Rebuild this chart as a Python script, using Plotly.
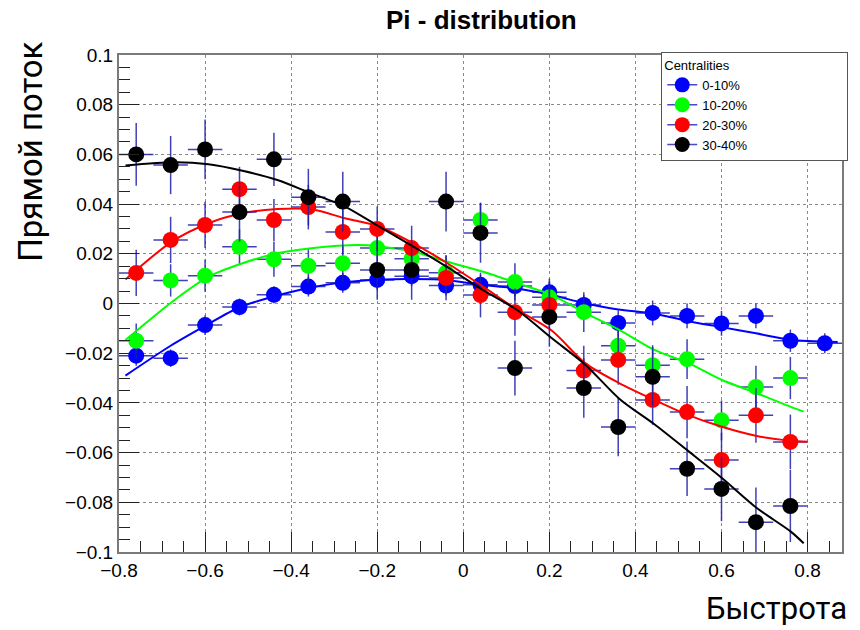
import plotly.graph_objects as go

# ---------------- data ----------------
x_bins = [-0.76, -0.68, -0.60, -0.52, -0.44, -0.36, -0.28, -0.20, -0.12, -0.04,
          0.04, 0.12, 0.20, 0.28, 0.36, 0.44, 0.52, 0.60, 0.68, 0.76, 0.84]
x_halfwidth = 0.04

labels = ["0-10%", "10-20%", "20-30%", "30-40%"]
colors = ["#0000ff", "#00ff00", "#ff0000", "#000000"]

v2_c0 = [-0.021, -0.022, -0.0087, -0.0014, 0.0035, 0.0068, 0.0083, 0.0095, 0.011, 0.0072,
         0.0075, 0.0070, 0.0045, -0.0006, -0.0078, -0.0038, -0.005, -0.008, -0.005, -0.015, -0.016]
v2_c1 = [-0.015, 0.0093, 0.0112, 0.0228, 0.0178, 0.0152, 0.0162, 0.0223, 0.018, 0.0124,
         0.0336, 0.0087, 0.0025, -0.0035, -0.017, -0.0248, -0.0224, -0.047, -0.0336, -0.030]
v2_c2 = [0.0123, 0.0256, 0.0316, 0.046, 0.0336, 0.0388, 0.0288, 0.030, 0.0223, 0.0103,
         0.0034, -0.0035, -0.0006, -0.027, -0.0227, -0.0388, -0.0437, -0.063, -0.045, -0.0557]
v2_c3 = [0.060, 0.0557, 0.062, 0.0368, 0.058, 0.0428, 0.041, 0.0135, 0.0135, 0.041,
         0.0284, -0.026, -0.0054, -0.034, -0.0497, -0.0295, -0.0665, -0.0746, -0.088, -0.0815]

err_c0 = [0.004, 0.0035, 0.004, 0.0034, 0.0034, 0.004, 0.004, 0.004, 0.004, 0.004,
          0.004, 0.004, 0.004, 0.004, 0.005, 0.005, 0.005, 0.005, 0.005, 0.0045, 0.004]
err_c1 = [0.007, 0.0065, 0.0065, 0.007, 0.007, 0.007, 0.007, 0.007, 0.007, 0.007,
          0.007, 0.0075, 0.0075, 0.008, 0.008, 0.008, 0.008, 0.008, 0.0085, 0.0085]
err_c2 = [0.0093, 0.0093, 0.0093, 0.009, 0.0085, 0.009, 0.009, 0.009, 0.009, 0.009,
          0.009, 0.0095, 0.0095, 0.010, 0.010, 0.010, 0.0105, 0.011, 0.011, 0.011]
err_c3 = [0.0126, 0.0117, 0.012, 0.012, 0.0107, 0.0114, 0.012, 0.012, 0.012, 0.012,
          0.012, 0.011, 0.012, 0.012, 0.0118, 0.012, 0.011, 0.013, 0.014, 0.0145]

# fit curves
fit_x_c0 = [-0.785, -0.68, -0.60, -0.52, -0.44, -0.36, -0.28, -0.20, -0.12, -0.04,
            0.04, 0.12, 0.20, 0.28, 0.36, 0.44, 0.52, 0.60, 0.68, 0.76, 0.87]
fit_y_c0 = [-0.029, -0.017, -0.009, -0.0015, 0.0028, 0.0062, 0.0085, 0.0096, 0.0099, 0.0095,
            0.0075, 0.0061, 0.0036, 0.0002, -0.0024, -0.004, -0.007, -0.0095, -0.012, -0.0146, -0.0155]
fit_x_c1 = [-0.785, -0.671, -0.592, -0.513, -0.432, -0.353, -0.245, -0.194, -0.116, -0.037,
            0.046, 0.127, 0.206, 0.284, 0.363, 0.444, 0.523, 0.601, 0.682, 0.761, 0.791]
fit_y_c1 = [-0.0147, 0.0014, 0.0108, 0.0162, 0.0202, 0.0222, 0.0235, 0.0229, 0.0208, 0.0168,
            0.0128, 0.0081, 0.0034, -0.0039, -0.0107, -0.0187, -0.024, -0.0308, -0.0361, -0.0416, -0.0435]
fit_x_c2 = [-0.785, -0.677, -0.592, -0.513, -0.432, -0.353, -0.275, -0.195, -0.116, -0.037,
            0.046, 0.126, 0.206, 0.284, 0.363, 0.444, 0.523, 0.601, 0.682, 0.761, 0.80]
fit_y_c2 = [0.0097, 0.0249, 0.0323, 0.0363, 0.038, 0.0379, 0.0343, 0.0309, 0.0242, 0.0162,
            0.0068, -0.0026, -0.011, -0.0241, -0.0321, -0.0388, -0.0449, -0.0496, -0.0533, -0.0552, -0.0556]
fit_x_c3 = [-0.785, -0.671, -0.592, -0.513, -0.432, -0.353, -0.275, -0.195, -0.116, -0.037,
            0.046, 0.125, 0.206, 0.284, 0.363, 0.444, 0.523, 0.601, 0.682, 0.761, 0.791]
fit_y_c3 = [0.0555, 0.0568, 0.056, 0.0534, 0.0497, 0.0443, 0.039, 0.0309, 0.0229, 0.0146,
            0.0054, -0.0026, -0.014, -0.0247, -0.0384, -0.0486, -0.0594, -0.0702, -0.0823, -0.0918, -0.0965]

series_y = [v2_c0, v2_c1, v2_c2, v2_c3]
series_err = [err_c0, err_c1, err_c2, err_c3]
fits = [(fit_x_c0, fit_y_c0), (fit_x_c1, fit_y_c1), (fit_x_c2, fit_y_c2), (fit_x_c3, fit_y_c3)]

ERR_COLOR = "rgba(30,30,170,0.85)"

fig = go.Figure()

for i in range(4):
    ys = series_y[i]
    xs = x_bins[:len(ys)]
    fig.add_trace(go.Scatter(
        x=xs, y=ys, mode="markers", showlegend=False,
        marker=dict(color=colors[i], size=16, line=dict(width=0)),
        error_y=dict(type="data", array=series_err[i], color=ERR_COLOR, thickness=1.5, width=0),
        error_x=dict(type="constant", value=x_halfwidth, color=ERR_COLOR, thickness=1.5, width=0),
        hoverinfo="skip",
    ))
    fx, fy = fits[i]
    fig.add_trace(go.Scatter(
        x=fx, y=fy, mode="lines", showlegend=False,
        line=dict(color=colors[i], width=2, shape="spline", smoothing=0.8),
        hoverinfo="skip",
    ))

# legend entries
for i in range(4):
    fig.add_trace(go.Scatter(
        x=[None], y=[None], mode="lines+markers", name=labels[i],
        line=dict(color="#4848c8", width=1.5),
        marker=dict(color=colors[i], size=15),
    ))

axis_common = dict(
    showline=True, linecolor="#7a7a7a", linewidth=2, mirror=True,
    ticks="inside", tickcolor="#222", tickwidth=1, ticklen=20,
    showgrid=True, gridcolor="#8a8a8a", griddash="dot", gridwidth=1,
    zeroline=False,
    tickfont=dict(family="Liberation Sans, Arial, sans-serif", size=19, color="#000"),
)

fig.update_xaxes(range=[-0.8, 0.88], dtick=0.2, tick0=-0.8,
                 minor=dict(ticks="inside", ticklen=11, dtick=0.05, tick0=-0.8, tickcolor="#222", showgrid=False),
                 **axis_common)
fig.update_yaxes(range=[-0.1, 0.1], dtick=0.02, tick0=0,
                 minor=dict(ticks="inside", ticklen=11, dtick=0.005, tick0=0, tickcolor="#222", showgrid=False),
                 **axis_common)

legend_title = "Centralities" + "\u00a0" * 32

fig.update_layout(
    width=860, height=630,
    margin=dict(l=119, r=12, t=55, b=78),
    paper_bgcolor="white", plot_bgcolor="white",
    showlegend=True,
    legend=dict(
        x=0.75, y=1.006, xanchor="left", yanchor="top",
        bgcolor="white", bordercolor="#555", borderwidth=1,
        font=dict(family="Liberation Sans, Arial, sans-serif", size=13, color="#000"),
        title=dict(text=legend_title, font=dict(family="Liberation Sans, Arial, sans-serif", size=13)),
        tracegroupgap=0,
    ),
    annotations=[
        dict(text="<b>Pi - distribution</b>", x=0.502, y=1.07, xref="paper", yref="paper",
             xanchor="center", yanchor="middle", showarrow=False,
             font=dict(family="Liberation Sans, Arial, sans-serif", size=26, color="#000")),
        dict(text="Прямой поток", x=-0.122, y=0.805, xref="paper", yref="paper",
             xanchor="center", yanchor="middle", showarrow=False, textangle=-90,
             font=dict(family="Roboto, Open Sans, sans-serif", size=33, color="#000")),
        dict(text="Быстрота", x=1.0096, y=-0.113, xref="paper", yref="paper",
             xanchor="right", yanchor="middle", showarrow=False,
             font=dict(family="Roboto, Open Sans, sans-serif", size=31, color="#000")),
    ],
)

fig.write_html("out.html")
